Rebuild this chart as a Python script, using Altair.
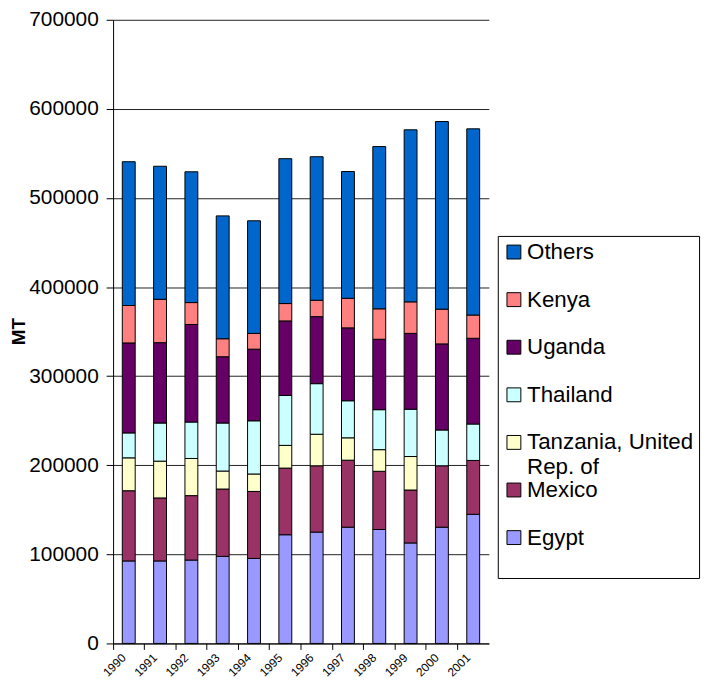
import altair as alt
import pandas as pd

years = ["1990", "1991", "1992", "1993", "1994", "1995", "1996", "1997", "1998", "1999", "2000", "2001"]
countries = ["Others", "Kenya", "Uganda", "Thailand", "Tanzania, United Rep. of", "Mexico", "Egypt"]
colors = ["#0066CC", "#FF8080", "#660066", "#CCFFFF", "#FFFFCC", "#993366", "#9999FF"]

egypt = [92600, 92600, 93600, 97700, 95400, 122000, 125000, 130500, 127900, 112800, 130500, 144900]
mexico = [78800, 70700, 72300, 75600, 75200, 74800, 74400, 75200, 65300, 59400, 68900, 60500]
tanzania = [36900, 41300, 41700, 20200, 19600, 25500, 35400, 25100, 24300, 37600, 0, 0]
thailand = [28000, 42800, 40900, 53900, 59700, 56000, 56800, 41600, 44900, 53100, 40200, 40900]
uganda = [101000, 90200, 109500, 74400, 80400, 83700, 75200, 81800, 79000, 85100, 96600, 96200]
kenya = [42000, 48700, 24600, 20200, 17700, 19500, 18400, 33200, 34200, 35400, 39000, 26100]
others = [161400, 149300, 146800, 137900, 126400, 162600, 161100, 142300, 182100, 193100, 210600, 209000]

series = {
    "Egypt": egypt,
    "Mexico": mexico,
    "Tanzania, United Rep. of": tanzania,
    "Thailand": thailand,
    "Uganda": uganda,
    "Kenya": kenya,
    "Others": others,
}
stack_order = ["Egypt", "Mexico", "Tanzania, United Rep. of", "Thailand", "Uganda", "Kenya", "Others"]

rows = []
for name in stack_order:
    for yr, v in zip(years, series[name]):
        if v > 0:
            rows.append({"year": yr, "country": name, "value": v, "rank": stack_order.index(name)})
df = pd.DataFrame(rows)

FONT = "Liberation Sans"

chart = alt.Chart(df).mark_bar(size=13, stroke="black", strokeWidth=1).encode(
    x=alt.X("year:N", sort=years,
            scale=alt.Scale(paddingInner=0, paddingOuter=0),
            axis=alt.Axis(title=None, bandPosition=0, labelAngle=-45, labelAlign="right",
                          labelBaseline="middle", labelOffset=-5, labelPadding=6,
                          labelFontSize=12, labelFont=FONT, labelColor="black",
                          tickSize=6, tickColor="black", domainColor="black",
                          grid=False)),
    y=alt.Y("value:Q", stack="zero",
            scale=alt.Scale(domain=[0, 700000], nice=False),
            axis=alt.Axis(title="MT", values=[0, 100000, 200000, 300000, 400000, 500000, 600000, 700000],
                          format="d", labelFontSize=21, labelFont=FONT, labelColor="black",
                          labelPadding=8, tickSize=7, tickColor="black", domainColor="black",
                          gridColor="#222222", gridOpacity=1,
                          titleFont=FONT, titleFontSize=19, titleFontWeight="bold", titleColor="black",
                          titleX=-95, titleY=314, titleAlign="center", titleBaseline="middle",
                          titleAngle=270)),
    color=alt.Color("country:N",
                    scale=alt.Scale(domain=countries, range=colors),
                    legend=alt.Legend(orient="none", legendX=388, legendY=218, title=" ",
                                      titleOrient="bottom", titleFontSize=18, titlePadding=6,
                                      symbolType="square", symbolSize=196,
                                      symbolStrokeColor="black", symbolStrokeWidth=1,
                                      labelFontSize=22.5, labelFont=FONT, labelColor="black",
                                      labelOffset=2, labelLimit=300,
                                      labelExpr="datum.label == 'Tanzania, United Rep. of' ? ['Tanzania, United', 'Rep. of'] : datum.label",
                                      strokeColor="black", fillColor="white",
                                      gridAlign="all",
                                      padding=5, rowPadding=0)),
    order=alt.Order("rank:Q", sort="ascending"),
).properties(
    width=379, height=629,
    autosize=alt.AutoSizeParams(type="none"),
    padding={"left": 106, "top": 9, "right": 220, "bottom": 36},
).configure_view(stroke=None)

chart.save("out.html", embed_options={"renderer": "svg", "actions": False})
